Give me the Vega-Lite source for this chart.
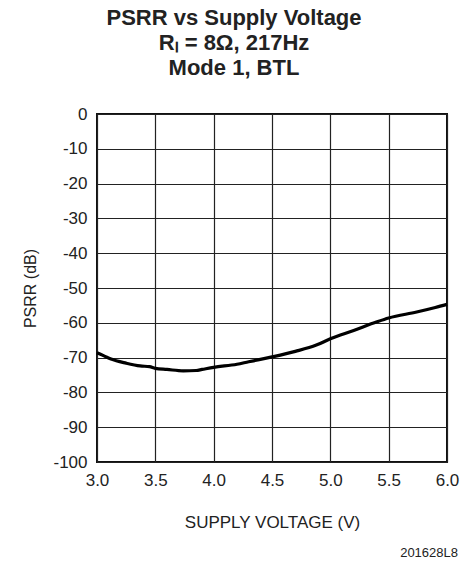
{
  "$schema": "https://vega.github.io/schema/vega-lite/v6.json",
  "autosize": "none",
  "width": 350,
  "height": 348,
  "padding": {"left": 97, "top": 114, "right": 16, "bottom": 103},
  "background": "white",
  "config": {
    "font": "Liberation Sans",
    "view": {"stroke": "#111", "strokeWidth": 2}
  },
  "title": {
    "text": ["PSRR vs Supply Voltage", "Rₗ = 8Ω, 217Hz", "Mode 1, BTL"],
    "font": "Liberation Sans",
    "fontSize": 22,
    "fontWeight": "bold",
    "lineHeight": 25,
    "color": "#222",
    "anchor": "middle",
    "frame": "group",
    "dx": -38,
    "offset": 25
  },
  "data": {
    "values": [
      {"v": 3.0, "psrr": -68.6},
      {"v": 3.06, "psrr": -69.5},
      {"v": 3.12, "psrr": -70.4},
      {"v": 3.25, "psrr": -71.6},
      {"v": 3.37, "psrr": -72.4},
      {"v": 3.45, "psrr": -72.6},
      {"v": 3.5, "psrr": -73.1},
      {"v": 3.6, "psrr": -73.4},
      {"v": 3.74, "psrr": -73.8},
      {"v": 3.85, "psrr": -73.7},
      {"v": 3.9, "psrr": -73.4},
      {"v": 4.0, "psrr": -72.8},
      {"v": 4.2, "psrr": -71.9},
      {"v": 4.3, "psrr": -71.2},
      {"v": 4.39, "psrr": -70.6},
      {"v": 4.5, "psrr": -69.8},
      {"v": 4.7, "psrr": -68.2},
      {"v": 4.88, "psrr": -66.4},
      {"v": 5.0, "psrr": -64.6},
      {"v": 5.2, "psrr": -62.2},
      {"v": 5.4, "psrr": -59.7},
      {"v": 5.5, "psrr": -58.6},
      {"v": 5.74, "psrr": -56.9},
      {"v": 5.9, "psrr": -55.6},
      {"v": 6.0, "psrr": -54.7}
    ]
  },
  "encoding": {
    "x": {
      "field": "v", "type": "quantitative",
      "scale": {"domain": [3, 6], "nice": false, "zero": false},
      "axis": {
        "values": [3, 3.5, 4, 4.5, 5, 5.5, 6],
        "format": ".1f",
        "labelOverlap": false,
        "title": "SUPPLY VOLTAGE (V)",
        "titleFont": "Liberation Sans",
        "titleFontSize": 17,
        "titleFontWeight": "normal",
        "titleColor": "#222",
        "titlePadding": 26,
        "labelFont": "Liberation Sans",
        "labelFontSize": 17,
        "labelColor": "#222",
        "labelPadding": 10,
        "labelFlush": false,
        "domain": false,
        "ticks": false,
        "grid": true,
        "gridColor": "#222",
        "gridWidth": 1.2,
        "gridOpacity": 1
      }
    },
    "y": {
      "field": "psrr", "type": "quantitative",
      "scale": {"domain": [-100, 0], "nice": false},
      "axis": {
        "values": [-100, -90, -80, -70, -60, -50, -40, -30, -20, -10, 0],
        "labelExpr": "toString(datum.value)",
        "labelOverlap": false,
        "title": "PSRR (dB)",
        "titleFont": "Liberation Sans",
        "titleFontSize": 16,
        "titleFontWeight": "normal",
        "titleColor": "#222",
        "titlePadding": 14,
        "labelFont": "Liberation Sans",
        "labelFontSize": 17,
        "labelColor": "#222",
        "labelPadding": 10,
        "labelFlush": false,
        "domain": false,
        "ticks": false,
        "grid": true,
        "gridColor": "#222",
        "gridWidth": 1.2,
        "gridOpacity": 1
      }
    }
  },
  "layer": [
    {
      "mark": {"type": "line", "color": "#000", "strokeWidth": 3.2, "interpolate": "monotone"}
    },
    {
      "data": {"values": [{"v": 6.0, "psrr": -100, "note": "201628L8"}]},
      "mark": {"type": "text", "align": "right", "baseline": "middle", "dx": 11, "dy": 91, "fontSize": 13, "color": "#222", "font": "Liberation Sans"},
      "encoding": {
        "text": {"field": "note"}
      }
    }
  ]
}
